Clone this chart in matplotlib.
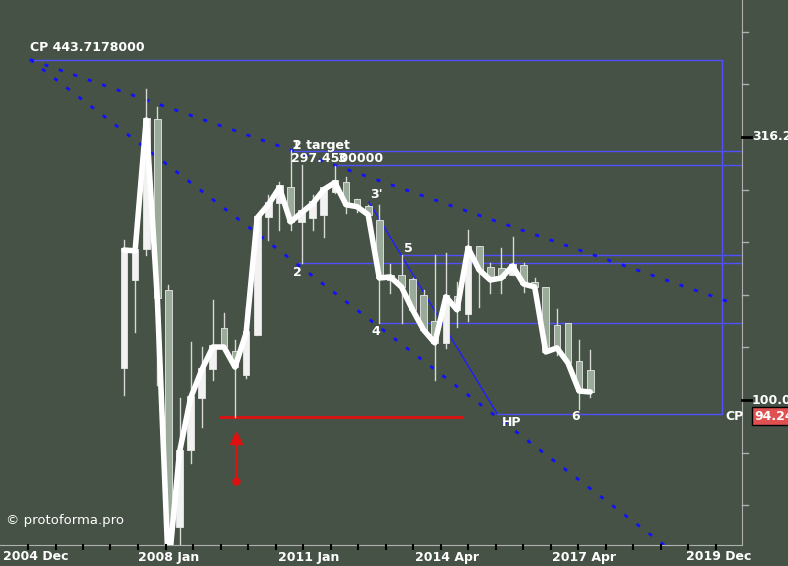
import matplotlib.pyplot as plt
import numpy as np
from matplotlib.patches import Rectangle

# quarterly candles (prices, log scale)
opens = [115.0, 169.1, 193.7, 340.6, 161.2, 57.3, 80.3, 100.9, 114.5, 135.8, 122.8,
         111.6, 132.9, 223.0, 237.2, 252.3, 218.1, 222.0, 225.0, 249.0, 257.9, 238.3,
         232.0, 218.1, 169.1, 171.4, 168.4, 157.1, 140.2, 128.4, 156.4, 145.8, 194.5,
         177.5, 176.7, 172.9, 179.0, 166.2, 162.6, 137.6, 139.0, 117.6, 113.0]
highs = [201.5, 197.0, 390.3, 360.7, 165.5, 100.9, 128.9, 126.1, 154.9, 146.4, 130.0,
         150.3, 225.0, 245.7, 260.2, 298.6, 279.7, 245.7, 254.5, 278.5, 265.9, 241.4,
         235.1, 235.1, 181.4, 188.8, 170.6, 161.9, 188.8, 190.4, 167.6, 210.6, 195.4,
         182.2, 194.5, 204.1, 182.2, 170.6, 163.0, 149.0, 139.5, 130.0, 124.5]
lows = [102.2, 134.6, 188.8, 106.8, 46.5, 46.5, 75.9, 88.9, 109.1, 124.5, 92.8,
        110.1, 132.9, 201.5, 210.6, 210.6, 182.2, 210.6, 204.1, 247.9, 227.0, 228.0,
        225.0, 140.2, 159.8, 140.2, 148.4, 135.8, 109.1, 125.6, 137.6, 141.4, 150.3,
        159.8, 159.8, 172.9, 160.5, 161.9, 140.2, 121.8, 117.6, 96.1, 101.3]
closes = [192.8, 192.1, 340.6, 156.4, 47.5, 79.6, 100.9, 114.0, 126.1, 126.1, 115.5,
          134.0, 222.0, 235.1, 253.4, 218.1, 227.0, 236.2, 251.2, 259.0, 235.1, 233.1,
          225.0, 170.6, 171.4, 164.0, 148.4, 135.8, 128.4, 157.1, 148.4, 194.5, 176.7,
          169.1, 170.6, 179.8, 166.2, 164.0, 123.4, 125.6, 117.6, 104.0, 103.6]

cp_level = 443.7178
target_level = 297.45
level_3 = 279.7
level_5 = 189.0
level_2 = 182.2
level_4 = 140.2
hp_level = 94.249
red_level = 92.8

date_labels = ['2004 Dec', '2008 Jan', '2011 Jan', '2014 Apr', '2017 Apr', '2019 Dec']
date_px = [3, 138, 278, 415, 552, 686]

W, H = 788, 566
AX_W, AX_H = 742, 545
X0, DX = 124, 11.1


def xi(px):
    return (px - X0) / DX


def yv(py):
    return 100 * 10 ** ((400 - py) / 526)


bg = '#455245'
fig = plt.figure(figsize=(W / 100, H / 100), dpi=100, facecolor=bg)
ax = fig.add_axes([0, (H - AX_H) / H, AX_W / W, AX_H / H], facecolor=bg)
ax.set_yscale('log')
ax.set_xlim(xi(0), xi(AX_W))
ax.set_ylim(yv(AX_H), yv(0))
for s in ax.spines.values():
    s.set_visible(False)
ax.spines['right'].set_visible(True)
ax.spines['right'].set_color('#b0b0b0')
ax.spines['bottom'].set_visible(True)
ax.spines['bottom'].set_color('#b0b0b0')
ax.set_xticks([])
ax.set_yticks([])
ax.minorticks_off()

blue = '#5050ff'
# levels
ax.plot([xi(30), xi(722)], [cp_level, cp_level], color=blue, lw=1)
ax.plot([xi(291), xi(742)], [target_level] * 2, color=blue, lw=1)
ax.plot([xi(337), xi(742)], [level_3] * 2, color=blue, lw=1)
ax.plot([xi(400), xi(742)], [level_5] * 2, color=blue, lw=1)
ax.plot([xi(298), xi(742)], [level_2] * 2, color=blue, lw=1)
ax.plot([xi(380), xi(742)], [level_4] * 2, color=blue, lw=1)
ax.plot([xi(497), xi(722)], [hp_level] * 2, color=blue, lw=1)
ax.plot([xi(722), xi(722)], [hp_level, cp_level], color=blue, lw=1)
ax.plot([xi(369), xi(497)], [yv(202), hp_level], color='#2020ff', lw=1)
# dotted channel
ax.plot([xi(30), xi(735)], [cp_level, yv(304)], color='#1010ff', lw=2, ls=(0, (1.5, 4)))
ax.plot([xi(30), xi(668)], [cp_level, yv(548)], color='#1010ff', lw=2, ls=(0, (1.5, 4)))
# red marker
ax.plot([xi(220), xi(462)], [red_level] * 2, color='#e01010', lw=2)
ax.plot([xi(236), xi(236)], [yv(440), yv(481)], color='#e01010', lw=2)
ax.plot([xi(236)], [yv(438)], '^', color='#e01010', ms=9)
ax.plot([xi(236)], [yv(481)], 'o', color='#e01010', ms=5)

# candles
for i, (o, h, l, c) in enumerate(zip(opens, highs, lows, closes)):
    up = c >= o
    ax.plot([i, i], [l, h], color='#d8d8d8', lw=1, zorder=3)
    col = '#f2f2f2' if up else '#9aab9a'
    ax.add_patch(Rectangle((i - 0.3, min(o, c)), 0.6, abs(c - o) + 0.01 * c,
                           facecolor=col, edgecolor='#e8e8e8', lw=0.6, zorder=4))
ax.plot(range(len(closes)), closes, color='white', lw=4, solid_joinstyle='round',
        solid_capstyle='round', zorder=5)

# annotations
tk = dict(color='white', fontsize=9, fontweight='bold', zorder=6)
ax.text(xi(30), yv(51), 'CP 443.7178000', **tk)
ax.text(xi(292), yv(149), '1', **tk)
ax.text(xi(293), yv(149), '2 target', **tk)
ax.text(xi(291), yv(162), '297.4500000', **tk)
ax.text(xi(337), yv(162), '3', **tk)
ax.text(xi(370), yv(198), "3'", **tk)
ax.text(xi(293), yv(276), '2', **tk)
ax.text(xi(371), yv(335), '4', **tk)
ax.text(xi(404), yv(252), '5', **tk)
ax.text(xi(502), yv(426), 'HP', **tk)
ax.text(xi(571), yv(420), '6', **tk)
ax.text(xi(725), yv(420), 'CP', **tk)
ax.text(xi(6), yv(524), '© protoforma.pro', color='white', fontsize=9.5, zorder=6)

# right axis
for k in range(-3, 8):
    v = 100 * 10 ** (k / 10)
    py = 400 - 526 * k / 10
    yf = 1 - py / H
    if 0 < py < AX_H:
        major = k % 5 == 0
        fig.add_artist(plt.Line2D([AX_W / W, (AX_W + (9 if major else 6)) / W], [yf, yf],
                                  color='black' if major else '#b0b0b0', lw=2 if major else 1))
        if major:
            fig.text((AX_W + 10) / W, yf, f'{v:.1f}', color='white', fontsize=9,
                     fontweight='bold', va='center')
fig.text(754 / W, 1 - 416 / H, '94.249', color='white', fontsize=9, fontweight='bold',
         va='center', bbox=dict(facecolor='#e05050', edgecolor='black', pad=1.5))

# bottom axis
for px in np.arange(28, AX_W, 27.5):
    fig.add_artist(plt.Line2D([px / W, px / W], [(H - AX_H) / H, (H - AX_H - 4) / H],
                              color='black', lw=1.5))
for lab, px in zip(date_labels, date_px):
    fig.text(px / W, 1 - 557 / H, lab, color='white', fontsize=9, fontweight='bold',
             va='center')

fig.savefig('out.png', dpi=100, facecolor=bg)
